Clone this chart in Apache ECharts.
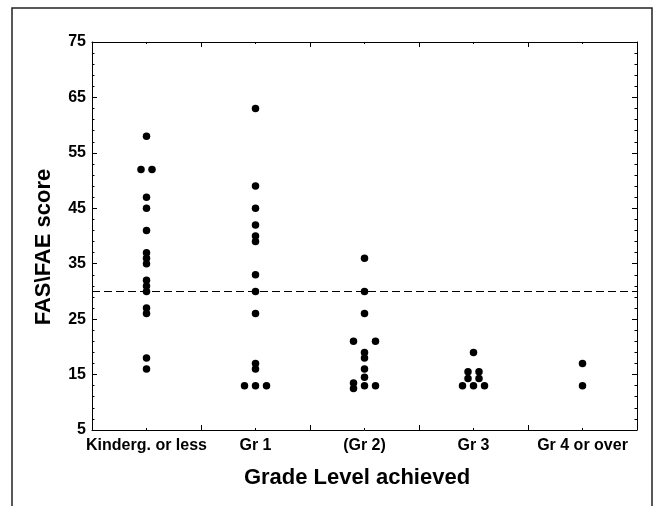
<!DOCTYPE html>
<html>
<head>
<meta charset="utf-8">
<script src="https://cdn.jsdelivr.net/npm/echarts@6/dist/echarts.min.js"></script>
<style>
html,body{margin:0;padding:0;background:#fff;}
#chart{width:657px;height:506px;}
</style>
</head>
<body>
<div id="chart"></div>
<script>
// Categories (grade level achieved)
const categories = ['Kinderg. or less', 'Gr 1', '(Gr 2)', 'Gr 3', 'Gr 4 or over'];

// FAS\FAE scores per grade group
const kindergScores = [58, 52, 52, 47, 45, 41, 37, 36, 35, 32, 31, 30, 27, 26, 18, 16];
const gr1Scores     = [63, 49, 45, 42, 40, 39, 33, 30, 26, 17, 16, 13, 13, 13];
const gr2Scores     = [36, 30, 26, 21, 21, 19, 18, 16, 14.5, 13.5, 12.5, 13, 13];
const gr3Scores     = [19, 15.5, 15.5, 14.3, 14.3, 13, 13, 13];
const gr4Scores     = [17, 13];

// Side-by-side slot of each dot within its column (dot-plot stacking of ties)
const kindergSlots = [0, -1, 1, 0, 0, 0, 0, 0, 0, 0, 0, 0, 0, 0, 0, 0];
const gr1Slots     = [0, 0, 0, 0, 0, 0, 0, 0, 0, 0, 0, -2, 0, 2];
const gr2Slots     = [0, 0, 0, -2, 2, 0, 0, 0, 0, -2, -2, 0, 2];
const gr3Slots     = [0, -1, 1, -1, 1, -2, 0, 2];
const gr4Slots     = [0, 0];

// Y axis tick labels
const yTicks = [5, 15, 25, 35, 45, 55, 65, 75];
// Reference cut-off
const cutoff = [30];

const groups = [
  [kindergScores, kindergSlots],
  [gr1Scores, gr1Slots],
  [gr2Scores, gr2Slots],
  [gr3Scores, gr3Slots],
  [gr4Scores, gr4Slots]
];

const SLOT_PX = 5.5;
const points = [];
groups.forEach(function (g, ci) {
  g[0].forEach(function (v, i) {
    points.push({ value: [categories[ci], v], symbolOffset: [g[1][i] * SLOT_PX, 0] });
  });
});

const FONT = '"Liberation Sans", Arial, sans-serif';
const chart = echarts.init(document.getElementById('chart'), null, { renderer: 'canvas' });

const catAxisBase = {
  type: 'category',
  data: categories,
  boundaryGap: true,
  splitLine: { show: false },
  axisLine: { show: true, onZero: false, lineStyle: { color: '#000', width: 1 } },
  axisTick: { show: true, inside: true, length: 5, interval: 0, lineStyle: { color: '#000', width: 1 } },
  axisLabel: { show: false }
};

chart.setOption({
  animation: false,
  backgroundColor: '#fff',
  grid: { left: 92, right: 20, top: 42, bottom: 76 },
  xAxis: [
    Object.assign({}, catAxisBase, {
      position: 'bottom',
      axisLabel: {
        show: true, interval: 0, margin: 8,
        color: '#000', fontSize: 16, fontWeight: 'bold', fontFamily: FONT
      }
    }),
    Object.assign({}, catAxisBase, {
      position: 'bottom',
      axisLine: { show: false },
      axisTick: { show: true, inside: true, length: 2, interval: 0, alignWithLabel: true, lineStyle: { color: '#000' } }
    }),
    Object.assign({}, catAxisBase, { position: 'top' }),
    Object.assign({}, catAxisBase, {
      position: 'top',
      axisLine: { show: false },
      axisTick: { show: true, inside: true, length: 2, interval: 0, alignWithLabel: true, lineStyle: { color: '#000' } }
    })
  ],
  yAxis: [
    {
      type: 'value', position: 'left',
      min: yTicks[0], max: yTicks[yTicks.length - 1], interval: yTicks[1] - yTicks[0],
      splitLine: { show: false },
      axisLine: { show: true, lineStyle: { color: '#000', width: 1 } },
      axisTick: { show: true, inside: true, length: 5, lineStyle: { color: '#000' } },
      minorTick: { show: true, splitNumber: 5, length: 2.5, lineStyle: { color: '#000' } },
      axisLabel: { margin: 6, color: '#000', fontSize: 16, fontWeight: 'bold', fontFamily: FONT }
    },
    {
      type: 'value', position: 'right',
      min: yTicks[0], max: yTicks[yTicks.length - 1], interval: yTicks[1] - yTicks[0],
      splitLine: { show: false },
      axisLine: { show: true, lineStyle: { color: '#000', width: 1 } },
      axisTick: { show: true, inside: true, length: 5, lineStyle: { color: '#000' } },
      minorTick: { show: true, splitNumber: 5, length: 2.5, lineStyle: { color: '#000' } },
      axisLabel: { show: false }
    }
  ],
  series: [
    {
      type: 'scatter',
      xAxisIndex: 0, yAxisIndex: 0,
      symbol: 'circle', symbolSize: 7.5,
      itemStyle: { color: '#000', opacity: 1 },
      data: points,
      markLine: {
        silent: true,
        symbol: 'none',
        label: { show: false },
        lineStyle: { color: '#000', width: 1, type: [8, 4], opacity: 1 },
        data: cutoff.map(function (c) { return { yAxis: c }; })
      }
    }
  ],
  graphic: [
    {
      type: 'rect', silent: true,
      shape: { x: 12, y: 8, width: 640, height: 530 },
      style: { fill: 'none', stroke: '#222', lineWidth: 1.5 }
    },
    {
      type: 'text', x: 44, y: 247, rotation: Math.PI / 2,
      style: {
        text: 'FAS\\FAE score', font: 'bold 22px ' + FONT, fill: '#000',
        textAlign: 'center', textVerticalAlign: 'middle'
      }
    },
    {
      type: 'text', x: 357, y: 478,
      style: {
        text: 'Grade Level achieved', font: 'bold 22px ' + FONT, fill: '#000',
        textAlign: 'center', textVerticalAlign: 'middle'
      }
    }
  ]
});
</script>
</body>
</html>
